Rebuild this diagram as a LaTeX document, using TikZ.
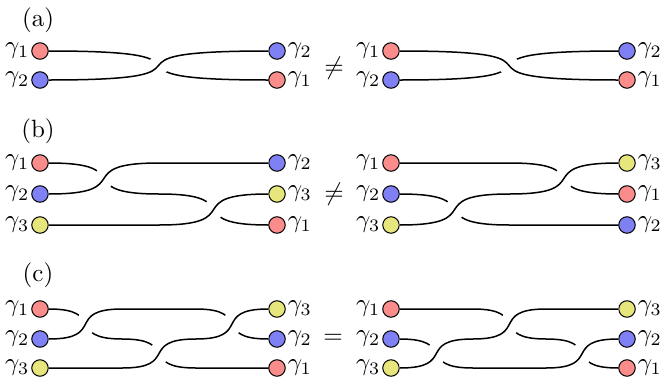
\documentclass[tikz,border=0pt]{standalone}
\usepackage{amsmath}
\usepackage{xcolor}
\usepackage{tikz}
\definecolor{gpink}{RGB}{250,140,140}
\definecolor{gblue}{RGB}{128,128,245}
\definecolor{gyell}{RGB}{230,230,125}
\tikzset{
	end node/.style={circle,draw,inner sep=0pt,minimum size=6.6pt,line width=0.4pt},
	g1/.style={end node,fill=gpink},
	g2/.style={end node,fill=gblue},
	g3/.style={end node,fill=gyell},
	gl/.style={label={[inner sep=.6pt]left:$\gamma_{#1}$}},
	gr/.style={label={[inner sep=.6pt]right:$\gamma_{#1}$}},
	strand/.style={line width=0.6pt},
	over/.style={strand,preaction={draw=white,line width=8pt}},
	braid/.style={out=0,in=180,looseness=#1},
	braid/.default=2
}

\begin{document}
\begin{tikzpicture}[x=0.4pt,y=-0.4pt]
	\useasboundingbox (0,0) rectangle (661,387);
	% (a)
	\node (la) at (38,20) {(a)};
	\node[g1,gl=1] (aa-s1) at (40,51) {};
	\node[g2,gl=2] (aa-s2) at (40,80) {};
	\node[g2,gr=2] (aa-e1) at (277,51) {};
	\node[g1,gr=1] (aa-e2) at (277,80) {};
	\draw[strand] (aa-s1.east) to[braid=2.25] (aa-e2.west);
	\draw[over] (aa-s2.east) to[braid=2.25] (aa-e1.west);
	\node (ne-a) at (334,68) {$\neq$};
	\node[g1,gl=1] (ab-s1) at (391,51) {};
	\node[g2,gl=2] (ab-s2) at (391,80) {};
	\node[g2,gr=2] (ab-e1) at (627,51) {};
	\node[g1,gr=1] (ab-e2) at (627,80) {};
	\draw[strand] (ab-s2.east) to[braid=2.25] (ab-e1.west);
	\draw[over] (ab-s1.east) to[braid=2.25] (ab-e2.west);
	% (b)
	\node (lb) at (38,131) {(b)};
	\node[g1,gl=1] (ba-s1) at (40,163) {};
	\node[g2,gl=2] (ba-s2) at (40,194) {};
	\node[g3,gl=3] (ba-s3) at (40,225) {};
	\node[g2,gr=2] (ba-e1) at (277,163) {};
	\node[g3,gr=3] (ba-e2) at (277,194) {};
	\node[g1,gr=1] (ba-e3) at (277,225) {};
	\draw[strand] (ba-s1.east) to[braid] ++(110.25,31) to[braid] (ba-e3.west);
	\draw[over] (ba-s2.east) to[braid] ++(110.25,-31) -- (ba-e1.west);
	\draw[over] (ba-s3.east) -- ++(110.25,0) to[braid] (ba-e2.west);
	\node (ne-b) at (334,194) {$\neq$};
	\node[g1,gl=1] (bb-s1) at (391,163) {};
	\node[g2,gl=2] (bb-s2) at (391,194) {};
	\node[g3,gl=3] (bb-s3) at (391,225) {};
	\node[g3,gr=3] (bb-e1) at (627,163) {};
	\node[g1,gr=1] (bb-e2) at (627,194) {};
	\node[g2,gr=2] (bb-e3) at (627,225) {};
	\draw[strand] (bb-s1.east) -- ++(109.75,0) to[braid] (bb-e2.west);
	\draw[strand] (bb-s2.east) to[braid] ++(109.75,31) -- (bb-e3.west);
	\draw[over] (bb-s3.east) to[braid] ++(109.75,-31) to[braid] (bb-e1.west);
	% (c)
	\node (lc) at (38,275) {(c)};
	\node[g1,gl=1] (ca-s1) at (40,309) {};
	\node[g2,gl=2] (ca-s2) at (40,339) {};
	\node[g3,gl=3] (ca-s3) at (40,368) {};
	\node[g3,gr=3] (ca-e1) at (277,309) {};
	\node[g2,gr=2] (ca-e2) at (277,339) {};
	\node[g1,gr=1] (ca-e3) at (277,368) {};
	\draw[strand] (ca-s1.east) to[braid=1.85] ++(73.5,30) to[braid=1.85] ++(73.5,29) -- (ca-e3.west);
	\draw[over] (ca-s2.east) to[braid=1.85] ++(73.5,-30) -- ++(73.5,0) to[braid=1.85] (ca-e2.west);
	\draw[over] (ca-s3.east) -- ++(73.5,0) to[braid=1.85] ++(73.5,-29) to[braid=1.85] (ca-e1.west);
	\node (eq-c) at (333,339) {$=$};
	\node[g1,gl=1] (cb-s1) at (391,309) {};
	\node[g2,gl=2] (cb-s2) at (391,339) {};
	\node[g3,gl=3] (cb-s3) at (391,368) {};
	\node[g3,gr=3] (cb-e1) at (627,309) {};
	\node[g2,gr=2] (cb-e2) at (627,339) {};
	\node[g1,gr=1] (cb-e3) at (627,368) {};
	\draw[strand] (cb-s1.east) -- ++(73.17,0) to[braid=1.85] ++(73.17,30) to[braid=1.85] (cb-e3.west);
	\draw[over] (cb-s2.east) to[braid=1.85] ++(73.17,29) -- ++(73.17,0) to[braid=1.85] (cb-e2.west);
	\draw[over] (cb-s3.east) to[braid=1.85] ++(73.17,-29) to[braid=1.85] ++(73.17,-30) -- (cb-e1.west);
\end{tikzpicture}
\end{document}
